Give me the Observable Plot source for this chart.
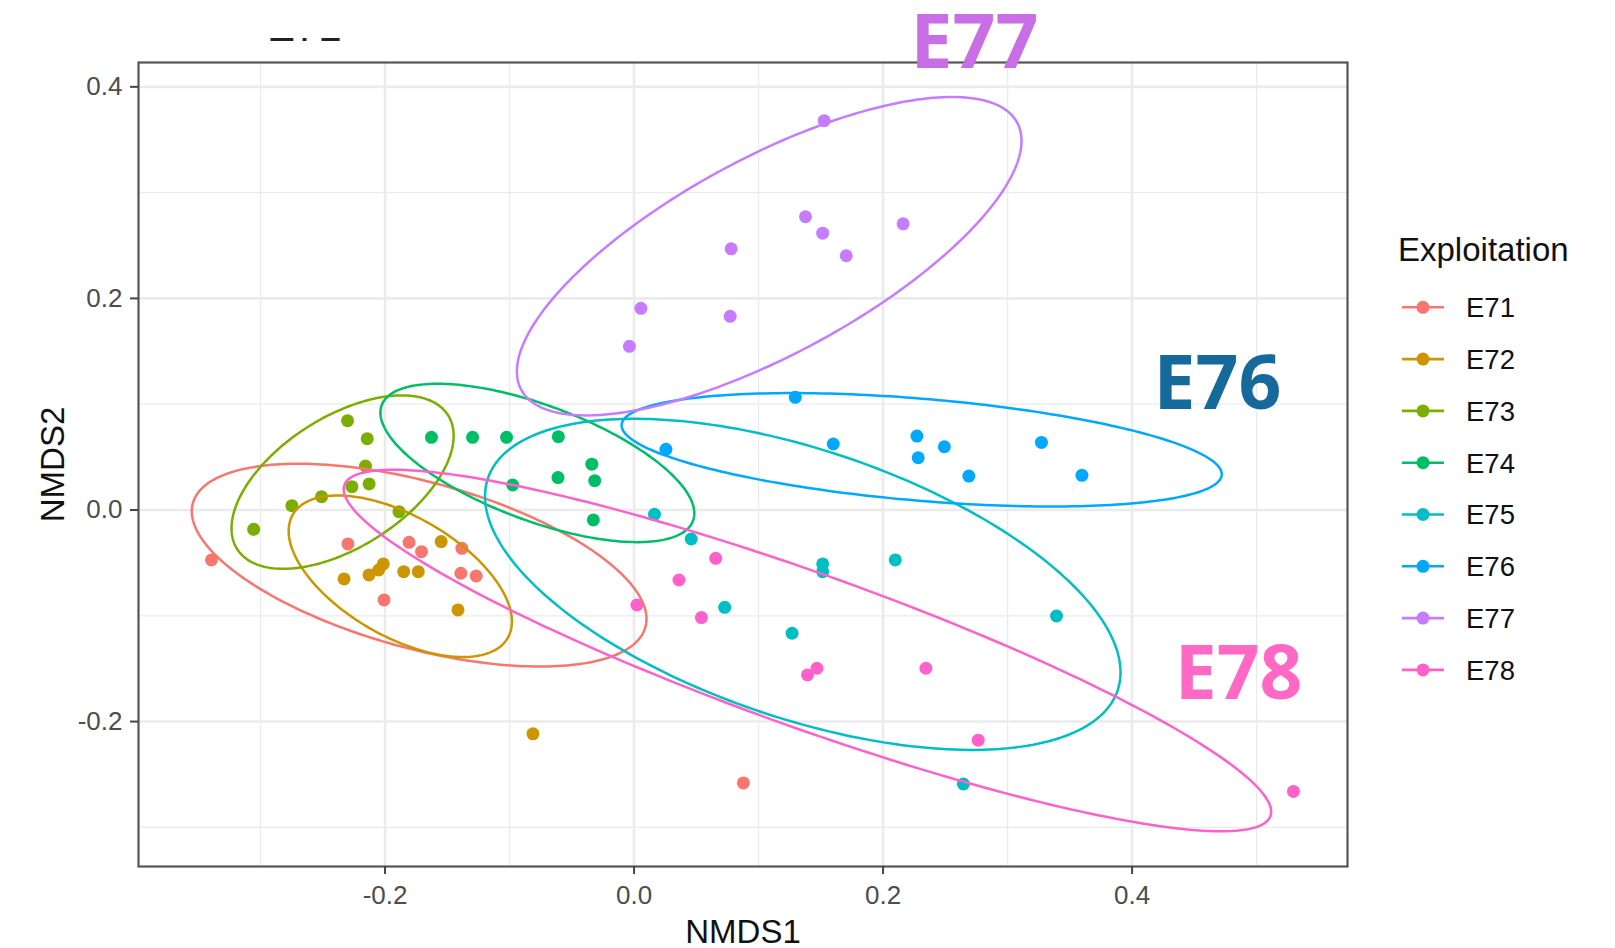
<!DOCTYPE html>
<html>
<head>
<meta charset="utf-8">
<script src="https://cdn.jsdelivr.net/npm/d3@7"></script>
<script src="https://cdn.jsdelivr.net/npm/@observablehq/plot@0.6"></script>
<style>
  body { margin: 0; background: #fff; }
  #wrap { position: relative; width: 1615px; height: 948px; overflow: hidden; background: #fff; }
  #wrap > svg.overlay { position: absolute; left: 0; top: 0; }
</style>
</head>
<body>
<div id="wrap"></div>
<script>
// ---------- data ----------
const groups = ["E71", "E72", "E73", "E74", "E75", "E76", "E77", "E78"];
const groupColors = ["#F8766D", "#CD9600", "#7CAE00", "#00BE67", "#00BFC4", "#00A9FF", "#C77CFF", "#FF61CC"];

const E71_x = [-0.3394, -0.2298, -0.1807, -0.1707, -0.1383, -0.1391, -0.1268, -0.2008, 0.0878];
const E71_y = [-0.0472, -0.0321, -0.0306, -0.0394, -0.0362, -0.0598, -0.0624, -0.0850, -0.2580];
const E72_x = [-0.1549, -0.2329, -0.2129, -0.2051, -0.2014, -0.1850, -0.1733, -0.1414, -0.0812];
const E72_y = [-0.0299, -0.0652, -0.0614, -0.0567, -0.0510, -0.0583, -0.0583, -0.0945, -0.2116];
const E73_x = [-0.2301, -0.2143, -0.2157, -0.2266, -0.2128, -0.2510, -0.2748, -0.1888, -0.3055];
const E73_y = [0.0844, 0.0674, 0.0416, 0.0220, 0.0246, 0.0126, 0.0041, -0.0016, -0.0183];
const E74_x = [-0.1627, -0.1297, -0.1024, -0.0608, -0.0339, -0.0611, -0.0316, -0.0975, -0.0327];
const E74_y = [0.0687, 0.0687, 0.0687, 0.0693, 0.0433, 0.0306, 0.0277, 0.0236, -0.0094];
const E75_x = [0.0164, 0.0459, 0.1515, 0.1515, 0.2098, 0.0728, 0.1269, 0.3393, 0.2645];
const E75_y = [-0.0041, -0.0274, -0.0510, -0.0583, -0.0472, -0.0920, -0.1165, -0.1002, -0.2590];
const E76_x = [0.1295, 0.0256, 0.1600, 0.2272, 0.2282, 0.2492, 0.3272, 0.2689, 0.3597];
const E76_y = [0.1065, 0.0573, 0.0624, 0.0699, 0.0494, 0.0598, 0.0639, 0.0321, 0.0328];
const E77_x = [0.1527, 0.1377, 0.1515, 0.1704, 0.2161, 0.0780, 0.0772, 0.0055, -0.0037];
const E77_y = [0.3680, 0.2772, 0.2617, 0.2403, 0.2705, 0.2469, 0.1831, 0.1906, 0.1547];
const E78_x = [0.0656, 0.0361, 0.0023, 0.0541, 0.1469, 0.1393, 0.2344, 0.2764, 0.5296];
const E78_y = [-0.0457, -0.0662, -0.0898, -0.1017, -0.1496, -0.1559, -0.1496, -0.2176, -0.2660];

// 95% ellipse extents (data units), in group order
const ellXmin = [-0.3552, -0.2774, -0.3233, -0.2037, -0.1197, -0.0100, -0.0941, -0.2332];
const ellXmax = [0.0100, -0.0981, -0.1449, 0.0484, 0.3907, 0.4720, 0.3112, 0.5117];
const ellYmin = [-0.1480, -0.1390, -0.0556, -0.0304, -0.2268, 0.0033, 0.0894, -0.3037];
const ellYmax = [0.0437, 0.0137, 0.1083, 0.1193, 0.0862, 0.1105, 0.3904, 0.0380];
const ellXtop = [-0.2696, -0.2380, -0.1865, -0.1578, 0.0000, 0.1271, 0.2553, -0.1930];

// big annotations
const labelText = ["E77", "E76", "E78"];
const labelX = [0.2734, 0.4686, 0.4855];
const labelY = [0.4405, 0.1177, -0.1556];
const labelColor = ["#C96FE6", "#16699B", "#FF68C5"];

const xMajor = [-0.2, 0.0, 0.2, 0.4];
const xMinor = [-0.3, -0.1, 0.1, 0.3, 0.5];
const yMajor = [-0.2, 0.0, 0.2, 0.4];
const yMinor = [-0.3, -0.1, 0.1, 0.3];

// ---------- build tables ----------
const seriesX = [E71_x, E72_x, E73_x, E74_x, E75_x, E76_x, E77_x, E78_x];
const seriesY = [E71_y, E72_y, E73_y, E74_y, E75_y, E76_y, E77_y, E78_y];
const points = [];
groups.forEach((g, i) => seriesX[i].forEach((x, j) => points.push({g, x, y: seriesY[i][j]})));

const ellipse = [];
groups.forEach((g, i) => {
  const cx = (ellXmin[i] + ellXmax[i]) / 2, A = (ellXmax[i] - ellXmin[i]) / 2;
  const cy = (ellYmin[i] + ellYmax[i]) / 2, B = (ellYmax[i] - ellYmin[i]) / 2;
  const phi = Math.acos(Math.max(-1, Math.min(1, (ellXtop[i] - cx) / A)));
  const n = 240;
  for (let k = 0; k <= n; k++) {
    const t = 2 * Math.PI * k / n;
    ellipse.push({g, x: cx + A * Math.cos(t), y: cy + B * Math.cos(t + phi)});
  }
});
const labels = labelText.map((t, i) => ({t, x: labelX[i], y: labelY[i], c: labelColor[i]}));

const fmt = d => d.toFixed(1);
const grid = "#EBEBEB";

const chart = Plot.plot({
  width: 1615, height: 948,
  marginLeft: 138, marginRight: 268, marginTop: 62, marginBottom: 82,
  x: {domain: [-0.398, 0.573]},
  y: {domain: [-0.337, 0.423]},
  color: {domain: groups, range: groupColors},
  style: {fontFamily: "'Liberation Sans', Arial, sans-serif", background: "#fff", overflow: "visible"},
  marks: [
    Plot.gridX(xMinor, {stroke: grid, strokeOpacity: 1, strokeWidth: 1.3}),
    Plot.gridY(yMinor, {stroke: grid, strokeOpacity: 1, strokeWidth: 1.3}),
    Plot.gridX(xMajor, {stroke: grid, strokeOpacity: 1, strokeWidth: 2.6}),
    Plot.gridY(yMajor, {stroke: grid, strokeOpacity: 1, strokeWidth: 2.6}),
    Plot.dot(points, {x: "x", y: "y", fill: "g", r: 6.5}),
    Plot.line(ellipse, {x: "x", y: "y", stroke: "g", z: "g", strokeWidth: 2.5, curve: "linear"}),
    Plot.frame({stroke: "#555", strokeWidth: 2.2}),
    Plot.axisX(xMajor, {tickSize: 8, tickPadding: 11, tickFormat: fmt, fontSize: 26, color: "#4D4D4D", stroke: "#444", strokeWidth: 2, label: null}),
    Plot.axisY(yMajor, {tickSize: 8, tickPadding: 8, tickFormat: fmt, fontSize: 26, color: "#4D4D4D", stroke: "#444", strokeWidth: 2, label: null}),
    Plot.text(["NMDS1"], {frameAnchor: "bottom", lineAnchor: "bottom", textAnchor: "middle", dy: 76, fontSize: 33, fill: "#111"}),
    Plot.text(["NMDS2"], {frameAnchor: "left", lineAnchor: "bottom", textAnchor: "middle", rotate: -90, dx: -75, fontSize: 33, fill: "#111"}),
    Plot.text(labels, {x: "x", y: "y", text: "t", fill: "c", fontSize: 75, fontWeight: 700,
      fontFamily: "'Open Sans', sans-serif", lineAnchor: "middle", textAnchor: "middle", clip: false})
  ]
});
const wrap = document.getElementById("wrap");
wrap.appendChild(chart);

// ---------- legend overlay ----------
const leg = d3.select(wrap).append("svg").attr("class", "overlay")
  .attr("width", 1615).attr("height", 948)
  .style("font-family", "'Liberation Sans', Arial, sans-serif");
leg.append("text").attr("x", 1398).attr("y", 261).attr("font-size", 33).attr("fill", "#111").text("Exploitation");
groups.forEach((g, i) => {
  const yy = 307.3 + i * 51.8;
  leg.append("line").attr("x1", 1402).attr("x2", 1444).attr("y1", yy).attr("y2", yy)
    .attr("stroke", groupColors[i]).attr("stroke-width", 2.6);
  leg.append("circle").attr("cx", 1423).attr("cy", yy).attr("r", 6.5).attr("fill", groupColors[i]);
  leg.append("text").attr("x", 1466).attr("y", yy).attr("dy", "0.36em").attr("font-size", 27.5)
    .attr("fill", "#111").text(g);
});

// clipped remnant of a heading at the very top (only its lower edge is visible)
const rem = d3.select(wrap).append("svg").attr("class", "overlay")
  .attr("width", 140).attr("height", 4).style("left", "262px").style("top", "38px");
rem.append("text").attr("x", 5).attr("y", 3).attr("font-size", 42)
  .attr("fill", "#222").attr("font-family", "'Liberation Sans', Arial, sans-serif").text("E71");
</script>
</body>
</html>
